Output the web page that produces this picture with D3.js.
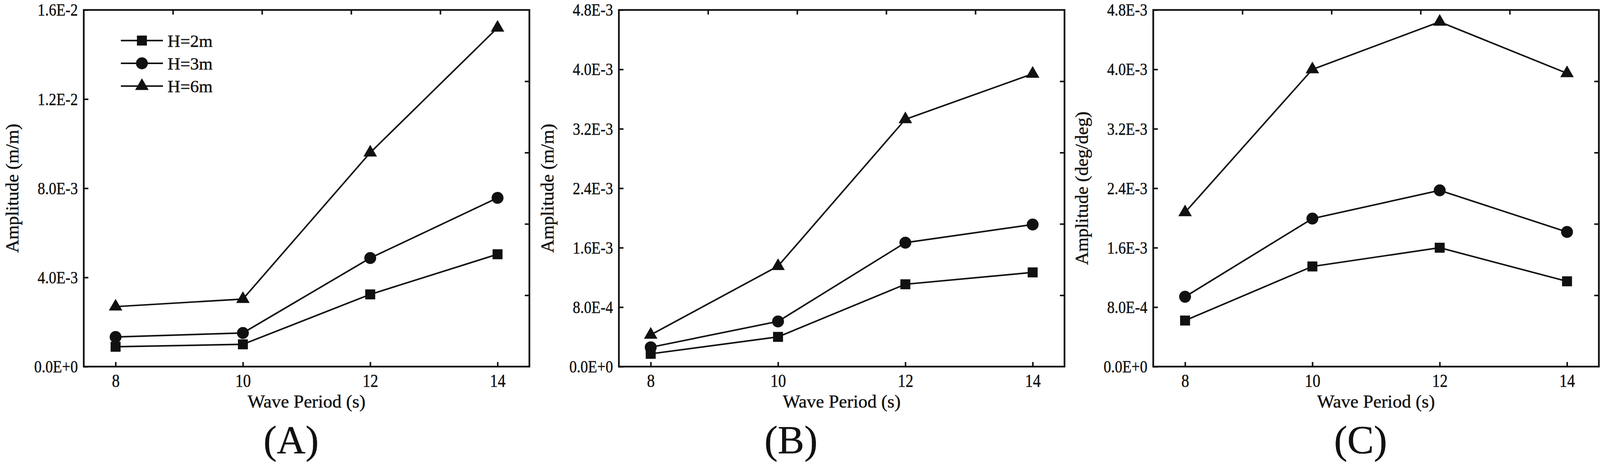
<!DOCTYPE html>
<html>
<head>
<meta charset="utf-8">
<script src="https://cdn.jsdelivr.net/npm/d3@7"></script>
<style>
  html, body { margin: 0; padding: 0; background: #fff; overflow: hidden; }
  svg { display: block; width: 100vw; height: 100vh; }
  text { font-family: "Liberation Serif", "Times New Roman", "DejaVu Serif", serif; fill: #111; stroke: #111; stroke-width: 0.6px; }
</style>
</head>
<body>
<script>
// wave periods on the x axis
const periods = [8, 10, 12, 14]
const seriesNames = ['H=2m', 'H=3m', 'H=6m']

// (A) amplitude m/m
const aH2 = [0.89e-3, 1.0e-3, 3.24e-3, 5.04e-3]
const aH3 = [1.33e-3, 1.51e-3, 4.87e-3, 7.57e-3]
const aH6 = [2.69e-3, 3.03e-3, 9.6e-3, 15.2e-3]

// (B) amplitude m/m
const bH2 = [0.172e-3, 0.40e-3, 1.108e-3, 1.268e-3]
const bH3 = [0.26e-3, 0.608e-3, 1.668e-3, 1.912e-3]
const bH6 = [0.428e-3, 1.352e-3, 3.328e-3, 3.94e-3]

// (C) amplitude deg/deg
const cH2 = [0.62e-3, 1.348e-3, 1.60e-3, 1.148e-3]
const cH3 = [0.94e-3, 1.992e-3, 2.372e-3, 1.812e-3]
const cH6 = [2.076e-3, 4.0e-3, 4.64e-3, 3.948e-3]

// tick values
const xTicks = [8, 10, 12, 14]
const yTicksA = [0, 4e-3, 8e-3, 12e-3, 16e-3]
const yTicksBC = [0, 0.8e-3, 1.6e-3, 2.4e-3, 3.2e-3, 4.0e-3, 4.8e-3]

const xTitle = 'Wave Period (s)'
const yTitles = ['Amplitude (m/m)', 'Amplitude (m/m)', 'Amplitude (deg/deg)']
const panelLabels = ['(A)', '(B)', '(C)']

const W = 4183, H = 1218
const plotTop = 26, plotH = 932, plotW = 1165
const lefts = [219, 1618, 3015]
const labelX = [761, 2068, 3557]
const symbols = [d3.symbolSquare, d3.symbolCircle, d3.symbolTriangle]
const symbolSizes = [680, 760, 540]
const serif = '"Liberation Serif", "Times New Roman", "DejaVu Serif", serif'

const fmt = v => d3.format('.1e')(v).toUpperCase()

// the viewBox keeps the whole figure inside the window whatever its real size
const svg = d3.select('body').append('svg')
  .attr('viewBox', '0 0 ' + W + ' ' + H)
  .attr('preserveAspectRatio', 'xMidYMin meet')

svg.append('rect').attr('width', W).attr('height', H).attr('fill', '#fff')

const panels = [
  { series: [aH2, aH3, aH6], yMax: 16e-3, yTicks: yTicksA, legend: true },
  { series: [bH2, bH3, bH6], yMax: 4.8e-3, yTicks: yTicksBC, legend: false },
  { series: [cH2, cH3, cH6], yMax: 4.8e-3, yTicks: yTicksBC, legend: false }
]

panels.forEach((p, i) => {
  const g = svg.append('g').attr('transform', 'translate(' + lefts[i] + ',' + plotTop + ')')
  const x = d3.scaleLinear().domain([7.5, 14.5]).range([0, plotW])
  const y = d3.scaleLinear().domain([0, p.yMax]).range([plotH, 0])

  // bottom axis
  const xAxis = g.append('g').attr('transform', 'translate(0,' + plotH + ')')
    .call(d3.axisBottom(x).tickValues(xTicks).tickSize(-12).tickPadding(19).tickFormat(d3.format('d')))
  // left axis
  const yAxis = g.append('g')
    .call(d3.axisLeft(y).tickValues(p.yTicks).tickSize(-12).tickPadding(18).tickFormat(fmt))
  // top and right axes: plain ticks at fifths of the frame
  const xd = x.domain(), yd = y.domain()
  g.append('g')
    .call(d3.axisTop(x).tickValues(d3.range(1, 5).map(k => xd[0] + k * (xd[1] - xd[0]) / 5)).tickSize(-12).tickFormat(''))
  g.append('g').attr('transform', 'translate(' + plotW + ',0)')
    .call(d3.axisRight(y).tickValues(d3.range(1, 5).map(k => yd[0] + k * (yd[1] - yd[0]) / 5)).tickSize(-12).tickFormat(''))

  g.selectAll('.domain').remove()
  g.selectAll('g').attr('font-family', serif)
  g.selectAll('.tick line').attr('stroke', '#111').attr('stroke-width', 4)
  xAxis.selectAll('text').attr('font-size', 48).attr('transform', 'scale(0.85,1)')
  yAxis.selectAll('text').attr('font-size', 46).attr('transform', 'scale(0.85,1)')
  g.selectAll('.tick text').attr('fill', '#111').attr('font-family', serif)

  // frame
  g.append('rect').attr('width', plotW).attr('height', plotH)
    .attr('fill', 'none').attr('stroke', '#111').attr('stroke-width', 4.5)

  // lines and markers
  const line = d3.line().x((d, k) => x(periods[k])).y(d => y(d))
  p.series.forEach((vals, s) => {
    g.append('path').datum(vals).attr('d', line)
      .attr('fill', 'none').attr('stroke', '#111').attr('stroke-width', 4)
    g.selectAll('.m' + s).data(vals).enter().append('path')
      .attr('transform', (d, k) => 'translate(' + x(periods[k]) + ',' + y(d) + ')')
      .attr('d', d3.symbol().type(symbols[s]).size(symbolSizes[s]))
      .attr('fill', '#111')
  })

  // legend
  if (p.legend) {
    const lg = g.append('g').attr('transform', 'translate(97,80)')
    seriesNames.forEach((name, s) => {
      const row = lg.append('g').attr('transform', 'translate(0,' + s * 59.5 + ')')
      row.append('line').attr('x1', 0).attr('x2', 110)
        .attr('stroke', '#111').attr('stroke-width', 4)
      row.append('path').attr('transform', 'translate(55,0)')
        .attr('d', d3.symbol().type(symbols[s]).size(symbolSizes[s]))
        .attr('fill', '#111')
      row.append('text').attr('x', 122).attr('dy', '0.35em')
        .attr('font-family', serif).attr('font-size', 46).text(name)
    })
  }

  // axis titles
  g.append('text').attr('x', plotW / 2).attr('y', plotH + 107)
    .attr('text-anchor', 'middle').attr('font-family', serif).attr('font-size', 48).text(xTitle)
  g.append('text')
    .attr('transform', 'translate(-188,' + plotH / 2 + ') rotate(-90)')
    .attr('text-anchor', 'middle').attr('dy', '0.35em')
    .attr('font-family', serif).attr('font-size', 48).text(yTitles[i])

  // panel label
  svg.append('text').attr('x', labelX[i]).attr('y', 1185)
    .attr('text-anchor', 'middle').attr('font-family', serif).attr('font-size', 104).text(panelLabels[i])
})
</script>
</body>
</html>
